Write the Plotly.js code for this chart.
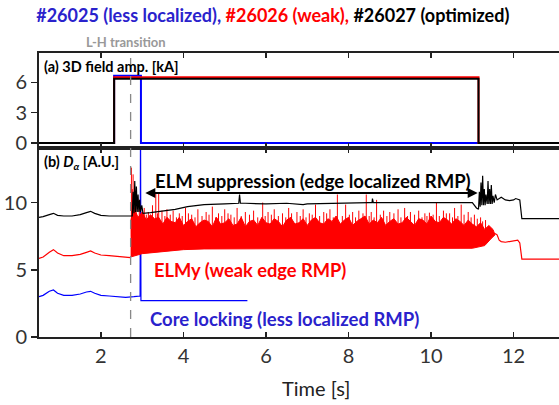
<!DOCTYPE html>
<html><head><meta charset="utf-8">
<script src="https://cdn.plot.ly/plotly-3.0.1.min.js"></script>
<style>html,body{margin:0;padding:0;background:#fff}#chart{width:559px;height:405px}</style>
</head><body><div id="chart"></div>
<script>
// ---------- Panel (a): 3D field amplitude [kA] ----------
const aBlackT = [0.5, 2.32, 2.32, 11.15, 11.15, 13.1];
const aBlackV = [0, 0, 6.35, 6.35, 0, 0];
const aRedT   = [0.5, 2.32, 2.32, 11.15, 11.15, 13.1];
const aRedV   = [0, 0, 6.5, 6.5, 0, 0];
const aBlueT  = [0.5, 2.32, 2.32, 2.97, 2.97, 11.15];
const aBlueV  = [0, 0, 6.65, 6.65, 0, 0];

// ---------- Panel (b): D_alpha [A.U.] ----------
// #26027 (black)
const bBlackT = [0.5,0.6,0.75,0.85,0.95,1.1,1.3,1.5,1.65,1.75,1.85,2.0,2.2,2.4,2.6,2.72,
  2.76,2.78,2.80,2.82,2.84,2.86,2.88,2.90,2.92,2.94,2.96,2.99,3.02,3.2,3.5,3.8,4.1,4.5,5.0,5.34,5.36,5.38,5.5,6.0,6.5,6.9,7.0,7.5,8.0,8.5,8.57,8.58,8.6,9.0,9.5,10.0,10.5,11.0,11.1,11.15,
  11.17,11.19,11.21,11.23,11.25,11.27,11.29,11.31,11.33,11.36,11.38,11.40,11.42,11.44,11.46,11.48,11.50,11.53,11.56,11.6,11.7,11.8,11.9,12.0,12.05,12.15,12.2,13.1];
const bBlackV = [8.9,8.95,9.1,9.2,9.05,9.0,9.0,9.1,9.25,9.35,9.2,9.05,9.0,9.0,8.95,8.95,
  9.0,10.8,9.2,11.6,9.3,11.2,9.3,10.6,9.3,10.2,9.3,9.8,9.2,9.25,9.35,9.5,9.7,9.85,9.9,9.95,10.6,9.95,9.95,9.9,9.95,9.85,9.9,9.95,10.0,10.0,10.0,10.3,10.0,10.0,10.0,10.0,10.0,10.0,9.6,9.5,
  10.8,9.7,11.5,9.8,12.0,9.8,11.0,9.8,10.6,9.9,11.6,9.9,11.0,9.9,11.3,9.9,10.5,10.0,10.6,10.2,10.4,10.2,10.15,10.2,10.3,10.2,8.8,8.8];

// #26026 (red): quiet parts
const bRedPreT  = [0.5,0.6,0.75,0.85,0.95,1.1,1.3,1.5,1.65,1.75,1.85,2.0,2.2,2.4,2.6,2.72];
const bRedPreV  = [5.85,5.95,6.3,6.5,6.25,6.05,6.05,6.15,6.3,6.4,6.25,6.1,6.05,6.0,5.9,5.9];
const bRedPostT = [11.55,11.6,11.65,11.7,11.8,11.9,12.0,12.1,12.15,12.2,13.1];
const bRedPostV = [7.7,7.6,7.2,7.1,7.05,7.1,7.15,7.2,7.0,5.8,5.8];
// ELMy band: lower and upper envelopes
const bRedLowT = [2.72,3.0,3.5,4.0,4.5,5.0,6.0,7.0,8.0,9.0,10.0,11.0,11.3,11.45,11.55];
const bRedLowV = [5.95,6.2,6.35,6.5,6.55,6.6,6.6,6.6,6.55,6.6,6.6,6.6,6.8,7.3,7.6];
const bRedUpT = [2.72,2.8,2.9,3.0,3.1,3.2,3.3,3.4,3.5,3.6,3.7,3.8,3.9,4.0,4.1,4.2,4.3,4.4,4.5,4.6,4.7,4.8,4.9,5.0,
  5.1,5.2,5.3,5.4,5.5,5.6,5.7,5.8,5.9,6.0,6.1,6.2,6.3,6.4,6.5,6.6,6.7,6.8,6.9,7.0,7.1,7.2,7.3,7.4,7.5,7.6,7.7,7.8,7.9,8.0,
  8.1,8.2,8.3,8.4,8.5,8.6,8.7,8.8,8.9,9.0,9.1,9.2,9.3,9.4,9.5,9.6,9.7,9.8,9.9,10.0,10.1,10.2,10.3,10.4,10.5,10.6,10.7,10.8,10.9,11.0,11.1,11.2,11.3,11.4,11.5,11.55];
const bRedUpV = [8.6,9.6,8.9,9.3,8.7,9.1,8.8,8.9,8.4,8.9,8.6,8.5,8.9,8.3,8.6,8.8,8.2,8.5,8.7,8.6,8.2,8.9,8.4,8.5,
  8.8,8.3,8.4,8.9,8.2,8.6,8.7,8.3,8.9,8.5,8.4,8.8,8.6,8.2,8.7,8.9,8.4,8.5,8.8,8.3,8.7,8.9,8.5,8.4,8.8,8.6,9.0,8.4,8.7,8.9,
  8.3,8.6,8.8,9.0,8.4,8.7,8.5,8.9,8.3,8.6,8.8,8.4,8.5,8.9,8.6,8.3,8.8,8.7,8.4,9.0,8.6,8.5,8.9,8.7,8.4,8.8,8.6,8.3,8.7,8.4,8.2,8.5,8.0,8.3,8.0,7.7];
// individual ELM spikes (tall and medium)
const bRedSpikeT = [2.74,2.76,2.78,2.81,2.85,2.93,3.05,3.15,3.25,3.33,3.40,3.48,3.6,3.75,3.9,4.05,4.2,4.35,4.55,4.7,4.85,5.0,5.15,5.3,5.5,5.7,5.92,
  6.05,6.2,6.4,6.55,6.75,6.9,7.05,7.2,7.4,7.55,7.73,7.93,8.1,8.25,8.43,8.55,8.68,8.85,9.0,9.2,9.36,9.5,9.7,9.85,9.96,10.13,10.3,10.45,10.57,10.73,10.9,11.05,11.2,11.32,
  2.98,3.1,3.2,3.37,3.55,3.68,3.83,3.97,4.12,4.28,4.45,4.62,4.78,4.93,5.08,5.23,5.4,5.6,5.8,5.98,6.13,6.3,6.48,6.62,6.83,6.97,7.12,7.3,7.47,7.63,7.85,
  8.02,8.17,8.35,8.5,8.62,8.77,8.93,9.1,9.27,9.43,9.6,9.78,9.9,10.05,10.2,10.37,10.52,10.65,10.8,10.97,11.12,11.25];
const bRedSpikeV = [12.6,11.0,12.1,10.4,9.9,10.2,9.6,9.3,9.8,10.7,10.7,9.4,9.5,9.4,9.2,9.6,9.1,9.5,9.3,9.7,9.2,9.5,9.1,9.6,9.3,9.4,10.0,
  9.3,9.5,9.2,9.6,9.3,9.5,9.2,9.85,9.3,9.5,10.6,9.85,9.3,9.4,10.6,9.3,10.2,9.4,9.3,9.5,9.6,9.3,9.4,9.2,9.25,10.0,9.4,9.2,9.6,9.85,9.3,9.1,8.9,8.7,
  9.0,9.1,8.9,9.2,9.0,9.1,8.9,9.0,9.2,8.9,9.0,9.1,8.9,9.0,9.2,8.9,9.0,9.1,8.9,9.0,9.1,9.0,8.9,9.2,9.0,8.9,9.1,9.0,9.2,8.9,9.0,
  9.1,8.9,9.2,9.0,8.9,9.1,9.0,9.2,8.9,9.0,9.1,8.9,9.0,9.1,9.0,9.2,8.9,9.0,9.1,8.9,8.8,8.6];

// #26025 (blue)
const bBlueT = [0.5,0.6,0.75,0.85,0.95,1.1,1.3,1.5,1.65,1.75,1.85,2.0,2.2,2.4,2.6,2.8,2.95,2.96,2.97,5.55];
const bBlueV = [3.0,3.1,3.4,3.5,3.25,3.1,3.1,3.2,3.35,3.4,3.25,3.1,3.05,3.0,2.95,3.0,3.05,16,2.7,2.7];

const LH_TIME = 2.72;
const xTicks = [2,4,6,8,10,12];

// build spike segments
const spX = [], spY = [];
bRedSpikeT.forEach((t,i)=>{ spX.push(t,t,null); spY.push(7.5,bRedSpikeV[i],null); });
// band polygon
const bandX = bRedUpT.concat(bRedLowT.slice().reverse());
const bandY = bRedUpV.concat(bRedLowV.slice().reverse());

const RED='#ff0000', BLUE='#0000ff', BLK='#000000';
const FONT='Lato, "Open Sans", sans-serif';

const traces = [
  {x:aBlueT, y:aBlueV, xaxis:'x2', yaxis:'y2', mode:'lines', line:{color:BLUE,width:2}},
  {x:aRedT, y:aRedV, xaxis:'x2', yaxis:'y2', mode:'lines', line:{color:RED,width:2}},
  {x:aBlackT, y:aBlackV, xaxis:'x2', yaxis:'y2', mode:'lines', line:{color:BLK,width:2}},
  {x:bBlueT, y:bBlueV, mode:'lines', line:{color:BLUE,width:1.2}},
  {x:bandX, y:bandY, mode:'lines', fill:'toself', fillcolor:RED, line:{color:RED,width:1}},
  {x:spX, y:spY, mode:'lines', line:{color:RED,width:1}, connectgaps:false},
  {x:bRedPreT, y:bRedPreV, mode:'lines', line:{color:RED,width:1.2}},
  {x:bRedPostT, y:bRedPostV, mode:'lines', line:{color:RED,width:1.2}},
  {x:bBlackT, y:bBlackV, mode:'lines', line:{color:BLK,width:1.2}},
];

const axCommon = {showline:true, linecolor:'#222', linewidth:2, showgrid:false, zeroline:false,
  tickfont:{family:FONT, size:20, color:'#333'}, tickcolor:'#222', tickwidth:1.5};

const layout = {
  width:559, height:405, margin:{l:39, r:0, t:53, b:68},
  paper_bgcolor:'#fff', plot_bgcolor:'#fff', showlegend:false,
  font:{family:FONT},
  title:{text:'<span style="color:#2a22cc">#26025 (less localized),</span> <span style="color:#ff0000">#26026 (weak),</span> #26027 (optimized)',
    font:{family:FONT, size:18, color:'#000', weight:'bold'}, xref:'container', yref:'container', x:0.488, xanchor:'center', y:0.962, yanchor:'middle'},
  xaxis: Object.assign({}, axCommon, {domain:[0,1], range:[0.5,13.1], anchor:'y', tickvals:xTicks, ticks:'inside', ticklen:5, mirror:'ticks'}),
  yaxis: Object.assign({}, axCommon, {domain:[0,0.665], range:[0,14.05], anchor:'x', tickvals:[0,5,10], ticks:'outside', ticklen:6}),
  xaxis2: Object.assign({}, axCommon, {domain:[0,1], range:[0.5,13.1], anchor:'y2', matches:'x', tickvals:xTicks, ticks:'inside', ticklen:5, mirror:'ticks', showticklabels:false}),
  yaxis2: Object.assign({}, axCommon, {domain:[0.665,1], range:[-0.5,8.9], anchor:'x2', tickvals:[0,3,6], ticks:'outside', ticklen:6}),
  shapes:[
    {type:'line', xref:'x', yref:'paper', x0:LH_TIME, x1:LH_TIME, y0:0, y1:1, line:{color:'#888', width:1.3, dash:'dash'}}
  ],
  annotations:[
    {text:'L-H transition', xref:'x', yref:'paper', x:2.62, y:1.039, showarrow:false, xanchor:'center', yanchor:'middle',
      font:{family:FONT, size:13, color:'#999', weight:'bold'}},
    {text:'(a) 3D field amp. [kA]', xref:'paper', yref:'paper', x:0, xshift:3, y:0.954, showarrow:false, xanchor:'left', yanchor:'middle',
      font:{family:FONT, size:14.5, color:'#000', weight:'bold'}},
    {text:'(b) <i>D<sub>α</sub></i> [A.U.]', xref:'paper', yref:'paper', x:0, xshift:3, y:0.613, showarrow:false, xanchor:'left', yanchor:'middle',
      font:{family:FONT, size:14.5, color:'#000', weight:'bold'}},
    {text:'ELM suppression (edge localized RMP)', xref:'x', yref:'y', x:3.26, y:11.58, showarrow:false, xanchor:'left', yanchor:'middle',
      font:{family:FONT, size:18.5, color:'#000', weight:'bold'}},
    {text:'', xref:'x', yref:'y', x:11.13, y:10.72, axref:'x', ayref:'y', ax:3.04, ay:10.72, showarrow:true,
      arrowside:'end+start', arrowhead:2, arrowsize:1, arrowwidth:2, arrowcolor:'#000'},
    {text:'ELMy (weak edge RMP)', xref:'x', yref:'y', x:3.23, y:4.96, showarrow:false, xanchor:'left', yanchor:'middle',
      font:{family:FONT, size:18.3, color:'#ff0000', weight:'bold'}},
    {text:'Core locking (less localized RMP)', xref:'x', yref:'y', x:3.14, y:1.35, showarrow:false, xanchor:'left', yanchor:'middle',
      font:{family:FONT, size:18.5, color:'#2a22cc', weight:'bold'}},
    {text:'Time [s]', xref:'x', yref:'paper', x:7.22, y:0, yshift:-51, showarrow:false, xanchor:'center', yanchor:'middle',
      font:{family:FONT, size:20, color:'#222'}}
  ]
};

Plotly.newPlot('chart', traces, layout, {displayModeBar:false, staticPlot:true});
</script>
</body></html>
